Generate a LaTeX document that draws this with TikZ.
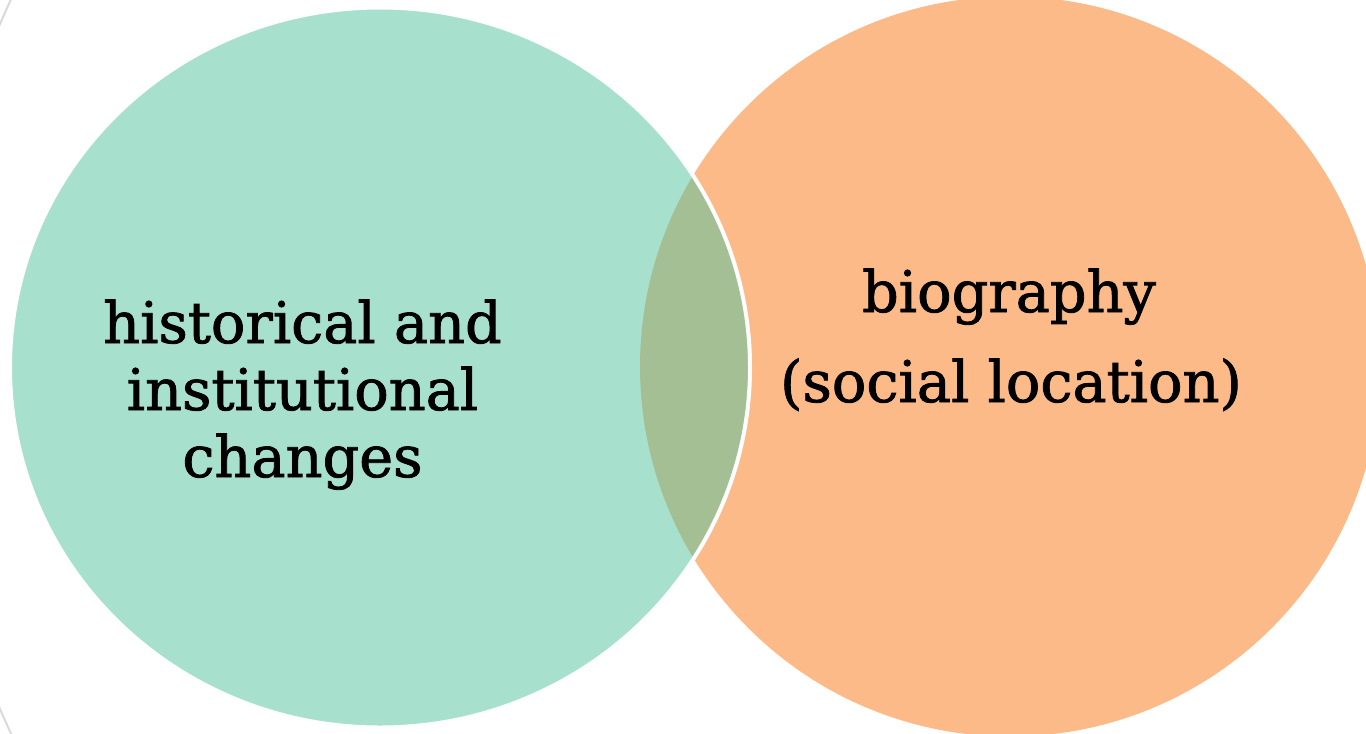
\documentclass[tikz,border=0pt]{standalone}
\usepackage{fontspec}
\setmainfont{DejaVu Serif}
\newfontfamily\labelfont[FakeBold=1.4]{DejaVu Serif}
\usetikzlibrary{positioning}

\definecolor{histfill}{HTML}{A8E0CE}
\definecolor{biofill}{HTML}{FBBA88}
\definecolor{lensfill}{HTML}{A5BF94}
\definecolor{ringgray}{HTML}{D9D9D9}

\begin{document}
\begin{tikzpicture}[x=0.75pt,y=-0.75pt]

	\tikzstyle{setlabel}=[font=\labelfont\fontsize{43}{50}\selectfont,text=black,anchor=base,inner sep=0pt]
	\tikzstyle{histshape}=[x radius=370,y radius=360]
	\tikzstyle{bioshape}=[radius=370]

	\useasboundingbox (0,0) rectangle (1366,733);

	%% centres of the two sets
	\coordinate (histc) at (380,367.5);
	\coordinate (bioc) at (1010,366.5);

	%% faint ring behind
	\draw[ringgray,line width=1.5pt] (800,366.5) circle[radius=870];

	%% the two sets
	\fill[biofill] (bioc) circle[bioshape];
	\fill[histfill] (histc) ellipse[histshape];
	\begin{scope}
		\clip (bioc) circle[bioshape];
		\fill[lensfill] (histc) ellipse[histshape];
	\end{scope}
	\draw[white,line width=3pt] (histc) ellipse[histshape];

	%% Labels
	\node [setlabel] (hist1) at (302.5,343) {historical and};
	\node [setlabel] (hist2) at (302.5,410) {institutional};
	\node [setlabel] (hist3) at (302.5,477) {changes};

	\node [setlabel] (bio1) at (1009,312) {biography};
	\node [setlabel] (bio2) at (1011,402) {(social location)};

\end{tikzpicture}
\end{document}
